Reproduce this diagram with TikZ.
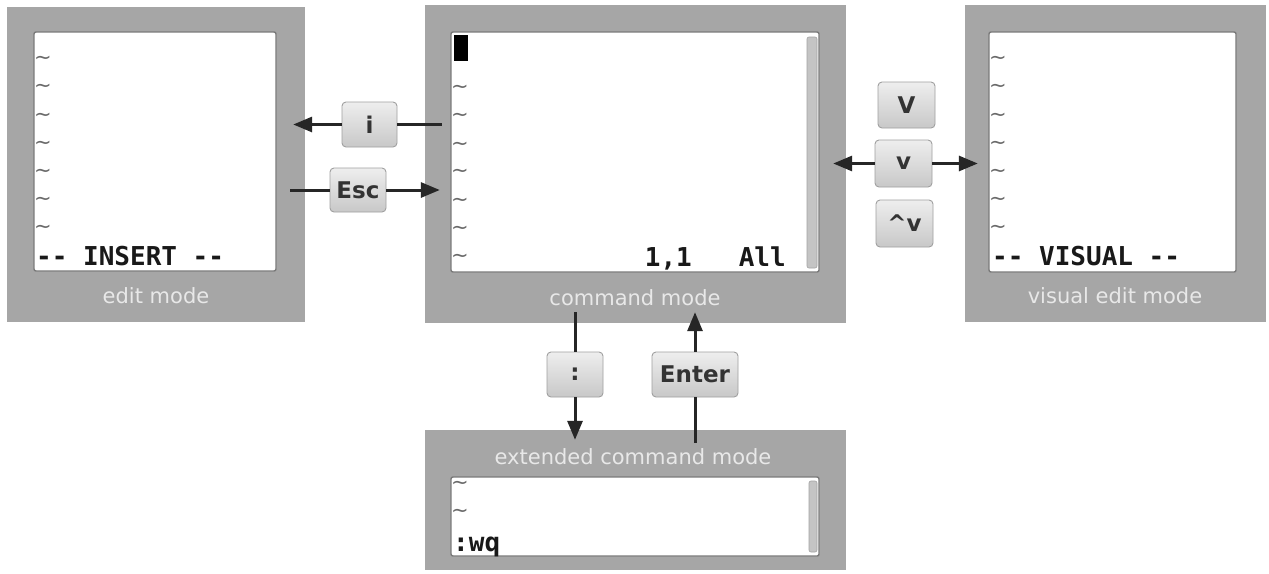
\documentclass[tikz,border=0pt]{standalone}
\usepackage{fontspec}
\setmainfont{DejaVu Sans}
\newfontfamily\statusfont{DejaVu Sans Mono}
\usetikzlibrary{arrows.meta}
\definecolor{framegray}{HTML}{A6A6A6}
\definecolor{screenedge}{HTML}{7A7A7A}
\definecolor{captiontext}{HTML}{E8E8E8}
\definecolor{keytop}{HTML}{EEEEEE}
\definecolor{keybot}{HTML}{C8C8C8}
\definecolor{keyedge}{HTML}{A0A0A0}
\definecolor{tildegray}{HTML}{6A6A6A}
\definecolor{scrollgray}{HTML}{C4C4C4}
\begin{document}
\begin{tikzpicture}[x=1pt,y=-1pt,
  frame/.style={fill=framegray, draw=none, inner sep=0pt},
  screen/.style={fill=white, draw=screenedge, line width=1.4pt, rounded corners=2pt, inner sep=0pt},
  keybox/.style={rounded corners=4pt, draw=keyedge, line width=0.9pt, top color=keytop, bottom color=keybot, text=black!80, inner sep=0pt, font=\bfseries\fontsize{23}{23}\selectfont},
  caption/.style={text=captiontext, inner sep=0pt, font=\fontsize{21}{21}\selectfont},
  status/.style={inner sep=0pt, text=black!90, font=\statusfont\bfseries\fontsize{26}{26}\selectfont},
  tilde/.style={text=tildegray, inner sep=0pt, anchor=west, font=\fontsize{21}{21}\selectfont},
  scroll/.style={fill=scrollgray, draw=screenedge!70, line width=0.6pt, rounded corners=2pt},
  link/.style={draw=black!85, line width=3pt},
  arr/.style={draw=black!85, line width=3pt, -{Triangle[length=19pt,width=15pt]}}
]
\useasboundingbox (0,0) rectangle (1269,573);
\fill[white] (0,0) rectangle (1269,573);

% frames
\node[frame, minimum width=298pt, minimum height=315pt] (editF) at (156,164.5) {};
\node[frame, minimum width=421pt, minimum height=318pt] (cmdF) at (635.5,164) {};
\node[frame, minimum width=301pt, minimum height=317pt] (visF) at (1115.5,163.5) {};
\node[frame, minimum width=421pt, minimum height=140pt] (extF) at (635.5,500) {};

% screens
\node[screen, minimum width=242pt, minimum height=239pt] (editIn) at (155,151.5) {};
\node[screen, minimum width=368pt, minimum height=240pt] (cmdIn) at (635,152) {};
\node[screen, minimum width=247pt, minimum height=240pt] (visIn) at (1112.5,152) {};
\node[screen, minimum width=368pt, minimum height=79pt] (extIn) at (635,516.5) {};

% scrollbars and cursor
\node[scroll, minimum width=10pt, minimum height=231pt, inner sep=0pt] (cmdScroll) at (812,152.5) {};
\node[scroll, minimum width=8pt, minimum height=71pt, inner sep=0pt] (extScroll) at (813,516.5) {};
\node[fill=black, minimum width=14pt, minimum height=26pt, inner sep=0pt] (cursor) at (461,48) {};

% tildes
\foreach \yy [count=\k] in {60,88,117,145,173,201,229}
  \node[tilde] (et\k) at (34,\yy) {\textasciitilde};
\foreach \yy [count=\k] in {89,117,146,173,202,230,258}
  \node[tilde] (ct\k) at (451,\yy) {\textasciitilde};
\foreach \yy [count=\k] in {60,88,117,145,173,201,229}
  \node[tilde] (vt\k) at (989,\yy) {\textasciitilde};
\foreach \yy [count=\k] in {485,513}
  \node[tilde] (xt\k) at (451,\yy) {\textasciitilde};

% status lines
\node[status, anchor=base west] (insert) at (36,265) {-- INSERT --};
\node[status, anchor=base east] (pos) at (786,266) {1,1\ \ \ All};
\node[status, anchor=base west] (visual) at (992,265) {-- VISUAL --};
\node[status, anchor=base west] (wq) at (453,551) {:wq};

% captions
\node[caption] (editCap) at (156,296) {edit mode};
\node[caption] (cmdCap) at (635,298) {command mode};
\node[caption] (visCap) at (1115,296) {visual edit mode};
\node[caption] (extCap) at (633,457) {extended command mode};

% keys
\node[keybox, minimum width=55pt, minimum height=45pt] (ikey) at (369.5,124.5) {i};
\node[keybox, minimum width=56pt, minimum height=44pt] (esckey) at (358,190) {Esc};
\node[keybox, minimum width=57pt, minimum height=46pt] (Vkey) at (906.5,105) {V};
\node[keybox, minimum width=57pt, minimum height=47pt] (vkey) at (903.5,163.5) {v};
\node[keybox, minimum width=57pt, minimum height=47pt] (cvkey) at (904.5,223.5) {\textasciicircum v};
\node[keybox, minimum width=56pt, minimum height=45pt] (colkey) at (575,374.5) {:};
\node[keybox, minimum width=86pt, minimum height=45pt] (enterkey) at (695,374.5) {Enter};

% connectors
\draw[link] ([xshift=17pt]cmdF.west |- ikey) -- (ikey.east);
\draw[arr] (ikey.west) -- ([xshift=-12pt]editF.east |- ikey);
\draw[link] ([xshift=-15pt]editF.east |- esckey) -- (esckey.west);
\draw[arr] (esckey.east) -- ([xshift=15pt]cmdF.west |- esckey);
\draw[arr] (vkey.west) -- ([xshift=-13pt]cmdF.east |- vkey);
\draw[arr] (vkey.east) -- ([xshift=13pt]visF.west |- vkey);
\draw[link] ([yshift=11pt]cmdF.south -| colkey) -- (colkey.north);
\draw[arr] (colkey.south) -- ([yshift=-10pt]extF.north -| colkey);
\draw[link] ([yshift=-13pt]extF.north -| enterkey) -- (enterkey.south);
\draw[arr] (enterkey.north) -- ([yshift=11pt]cmdF.south -| enterkey);
\end{tikzpicture}
\end{document}
